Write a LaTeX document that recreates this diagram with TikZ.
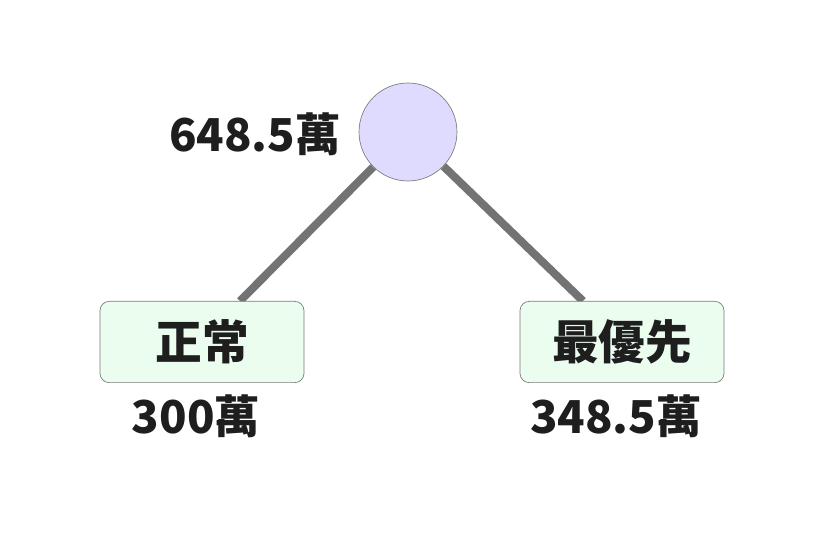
\documentclass[tikz,border=0pt]{standalone}
\usepackage{fontspec}
\setmainfont{Noto Sans CJK TC}
\usepackage{xcolor}
\usetikzlibrary{positioning,backgrounds}
\definecolor{mRoot}{HTML}{DEDBFF}
\definecolor{mLeaf}{HTML}{EAFDEF}
\definecolor{mEdge}{HTML}{737373}
\definecolor{mBorder}{HTML}{7A7A7A}
\definecolor{mText}{HTML}{1E1E1E}
\tikzset{
 rootnode/.style={circle, draw=mBorder, fill=mRoot, line width=0.5pt, minimum size=73.5pt, inner sep=0pt},
 leafbox/.style={draw=mBorder, fill=mLeaf, rounded corners=7pt, line width=0.5pt, minimum width=153pt, minimum height=61pt, inner sep=0pt, font=\fontsize{35}{38}\selectfont\bfseries, text=mText},
 amount/.style={font=\fontsize{34}{37}\selectfont\bfseries, text=mText, inner sep=0pt},
 branch/.style={mEdge, line width=6pt}
}
\begin{document}
\begin{tikzpicture}[x=0.75pt, y=-0.75pt]
\useasboundingbox (0,0) rectangle (822,545);
\node[rootnode] (root) at (408,132) {};
\node[leafbox] (normal) at (202,342) {正常};
\node[leafbox] (urgent) at (622,342) {最優先};
\node[amount] (rootval) at (255,134) {648.5萬};
\node[amount] (normalval) at (196,416) {300萬};
\node[amount] (urgentval) at (616,416) {348.5萬};
\coordinate (nhook) at (240,301);
\coordinate (uhook) at (583,301);
\begin{scope}[on background layer]
\draw[branch] (root) -- (nhook);
\draw[branch] (root) -- (uhook);
\end{scope}
\end{tikzpicture}
\end{document}
